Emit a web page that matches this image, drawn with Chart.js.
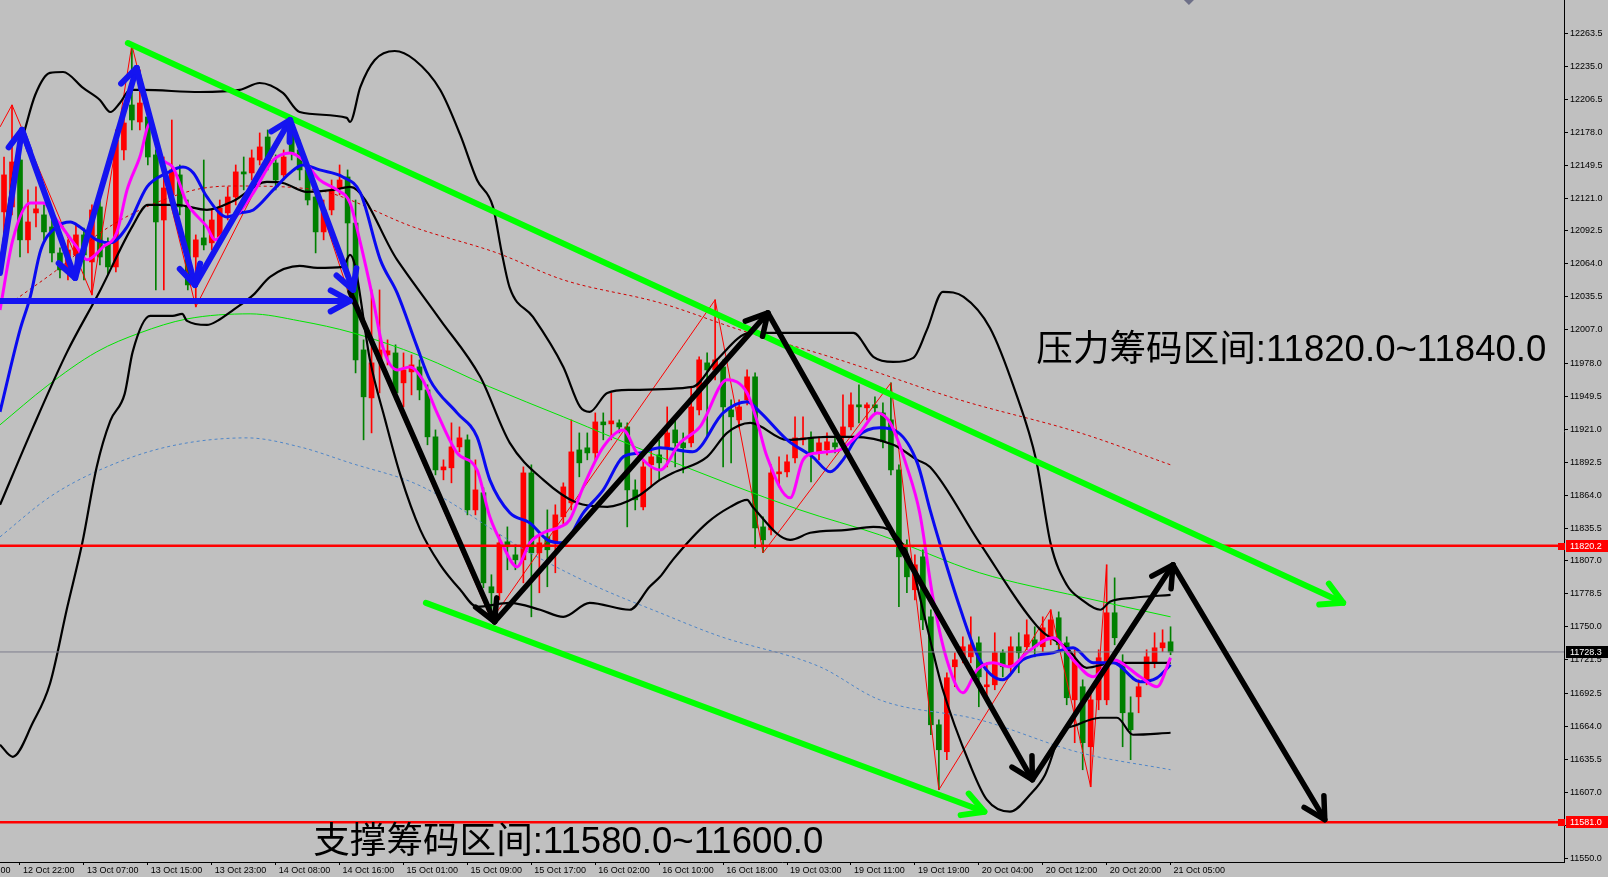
<!DOCTYPE html>
<html><head><meta charset="utf-8">
<script src="https://cdn.jsdelivr.net/npm/chart.js@4.4.1/dist/chart.umd.min.js"></script>
<style>html,body{margin:0;padding:0;background:#c0c0c0;overflow:hidden}canvas{display:block}</style>
</head><body><canvas id="c" width="1608" height="877"></canvas>
<script>
// ---------- DATA ----------
const firstBar = -2; // index of first hourly bar (0 = 12 Oct 22:00)
const open = [
12109.0,12113.3,12153.9,12084.8,12108.1,12106.4,12096.0,12073.5,12060.5,12071.8,
12089.1,12065.7,12113.3,12082.2,12061.4,12162.6,12201.5,12186.8,12191.1,12158.3,
12102.0,12123.7,12141.0,12113.3,12070.0,12086.5,12082.2,12087.3,12108.1,12121.9,
12143.6,12142.7,12153.9,12173.8,12151.3,12141.0,12177.3,12162.6,12145.3,12121.9,
12091.7,12110.7,12129.7,12139.2,12099.4,11989.6,11948.1,11981.0,11985.3,11987.0,
11961.1,11970.6,11974.9,11955.0,11914.4,11885.8,11887.6,11905.7,11911.8,11851.2,
11866.0,11784.7,11779.5,11823.6,11812.3,11808.0,11883.2,11814.1,11827.9,11822.7,
11845.2,11857.3,11903.1,11904.9,11900.5,11927.3,11925.6,11926.5,11923.0,11868.5,
11853.8,11890.2,11898.8,11905.7,11920.4,11909.2,11909.2,11937.7,11978.4,11972.3,
11974.9,11937.7,11929.1,11946.4,11966.3,11836.5,11833.9,11882.4,11884.1,11896.2,
11911.8,11913.5,11900.5,11903.1,11909.2,11914.4,11923.0,11942.1,11939.5,11942.1,
11935.1,11929.1,11885.8,11810.6,11782.1,11810.6,11758.7,11665.3,11642.0,11715.5,
11724.1,11724.1,11736.2,11698.2,11699.9,11727.6,11715.5,11732.8,11732.8,11738.8,
11732.8,11738.8,11757.9,11736.2,11686.9,11698.2,11646.3,11686.9,11686.9,11762.2,
11718.9,11675.7,11689.5,11704.2,11718.9,11731.9,11737.1];
const high = [
12156.5,12201.5,12179.9,12128.0,12130.6,12115.0,12102.0,12077.8,12084.8,12097.7,
12095.1,12115.0,12128.0,12086.5,12179.9,12197.2,12253.4,12231.8,12201.5,12162.6,
12156.5,12188.5,12149.6,12119.3,12089.1,12153.9,12110.7,12119.3,12130.6,12149.6,
12156.5,12162.6,12177.3,12179.9,12158.3,12162.6,12190.3,12171.2,12149.6,12128.0,
12119.3,12136.6,12149.6,12145.3,12119.3,11998.3,12041.5,12041.5,11998.3,11994.0,
11987.0,11985.3,11981.0,11959.4,11920.4,11894.5,11926.5,11923.0,11916.1,11894.5,
11870.3,11795.1,11829.6,11836.5,11821.0,11888.4,11890.2,11829.6,11851.2,11855.6,
11874.6,11929.1,11917.8,11917.8,11935.1,11935.1,11952.4,11929.1,11926.5,11877.2,
11894.5,11909.2,11911.8,11940.3,11929.1,11917.8,11957.6,11983.6,11987.0,12032.9,
11981.0,11946.4,11946.4,11972.3,11969.7,11845.2,11890.2,11897.1,11898.8,11931.7,
11931.7,11918.7,11914.4,11917.8,11914.4,11950.7,11952.4,11959.4,11943.8,11949.0,
11943.8,11961.1,11890.2,11825.3,11812.3,11816.7,11764.8,11669.6,11710.3,11727.6,
11741.4,11758.7,11741.4,11718.9,11744.9,11730.2,11741.4,11744.9,11756.1,11750.1,
11758.7,11764.8,11763.0,11741.4,11730.2,11704.2,11695.6,11730.2,11803.7,11792.4,
11725.9,11689.5,11704.2,11730.2,11744.9,11747.5,11750.1];
const low = [
12084.8,12106.4,12070.0,12073.5,12096.0,12084.8,12065.7,12051.9,12050.2,12065.7,
12050.2,12037.2,12063.1,12054.5,12057.1,12153.9,12179.9,12179.9,12149.6,12041.5,
12041.5,12119.3,12106.4,12041.5,12026.8,12076.1,12076.1,12080.4,12102.0,12115.0,
12128.0,12136.6,12149.6,12145.3,12128.0,12136.6,12153.9,12136.6,12115.0,12073.5,
12084.8,12106.4,12123.7,12041.5,11969.7,11911.8,11917.8,11952.4,11976.6,11946.4,
11940.3,11950.7,11946.4,11907.5,11881.5,11877.2,11874.6,11901.4,11846.9,11846.9,
11783.8,11756.1,11773.4,11799.4,11799.4,11788.1,11758.7,11779.5,11784.7,11796.8,
11838.3,11851.2,11879.8,11894.5,11894.5,11911.8,11911.8,11917.8,11836.5,11851.2,
11851.2,11871.1,11877.2,11888.4,11888.4,11883.2,11905.7,11933.4,11914.4,11963.7,
11888.4,11891.9,11922.2,11942.1,11818.4,11814.1,11829.6,11871.1,11879.8,11891.9,
11907.5,11875.5,11894.5,11898.8,11900.5,11909.2,11920.4,11926.5,11929.1,11935.1,
11904.9,11881.5,11767.4,11779.5,11773.4,11747.5,11656.7,11609.1,11635.1,11698.2,
11718.9,11718.9,11680.9,11689.5,11695.6,11706.8,11710.3,11710.3,11730.2,11724.1,
11728.5,11734.5,11728.5,11682.6,11649.8,11626.4,11611.7,11678.3,11682.6,11734.5,
11646.3,11635.1,11675.7,11699.9,11714.6,11728.5,11725.9];
const close = [
12141.0,12152.2,12084.8,12100.3,12111.6,12091.7,12073.5,12058.8,12076.1,12089.1,
12071.8,12110.7,12070.0,12061.4,12171.2,12185.9,12188.5,12203.2,12156.5,12100.3,
12129.7,12145.3,12113.3,12045.8,12084.8,12080.4,12102.0,12112.4,12121.9,12143.6,
12141.8,12155.7,12165.2,12149.6,12136.6,12156.5,12160.0,12145.3,12119.3,12091.7,
12110.7,12128.0,12136.6,12099.4,11981.0,11949.0,11978.4,11989.6,11988.8,11952.4,
11972.3,11976.6,11955.0,11914.4,11885.8,11888.4,11905.7,11913.5,11851.2,11868.5,
11788.1,11779.5,11822.7,11819.3,11808.0,11883.2,11814.1,11822.7,11816.7,11846.9,
11871.1,11901.4,11891.9,11900.5,11927.3,11924.8,11928.2,11923.0,11868.5,11859.9,
11888.4,11897.1,11891.9,11917.8,11909.2,11904.9,11940.3,11981.0,11972.3,11981.0,
11940.3,11931.7,11940.3,11966.3,11835.7,11825.3,11883.2,11884.1,11892.8,11913.5,
11913.5,11900.5,11909.2,11910.1,11905.7,11923.0,11942.1,11940.3,11942.1,11939.5,
11910.1,11885.8,11810.6,11793.3,11803.7,11756.1,11665.3,11643.7,11706.0,11721.5,
11732.8,11734.5,11706.8,11699.9,11727.6,11715.5,11732.8,11727.6,11743.2,11732.8,
11749.2,11756.1,11734.5,11688.7,11721.5,11649.8,11686.9,11723.3,11762.2,11740.6,
11675.7,11661.0,11698.2,11724.1,11731.9,11736.2,11728.3];

// time-axis labels (one every 8 bars)
const xTickBars = [-8,0,8,16,24,32,40,48,56,64,72,80,88,96,104,112,120,128,136,144];
const xTickLabels = ['12 Oct 14:00','12 Oct 22:00','13 Oct 07:00','13 Oct 15:00','13 Oct 23:00','14 Oct 08:00',
 '14 Oct 16:00','15 Oct 01:00','15 Oct 09:00','15 Oct 17:00','16 Oct 02:00','16 Oct 10:00','16 Oct 18:00',
 '19 Oct 03:00','19 Oct 11:00','19 Oct 19:00','20 Oct 04:00','20 Oct 12:00','20 Oct 20:00','21 Oct 05:00'];
const yTickValues = [12263.5,12235.0,12206.5,12178.0,12149.5,12121.0,12092.5,12064.0,12035.5,12007.0,
 11978.0,11949.5,11921.0,11892.5,11864.0,11835.5,11807.0,11778.5,11750.0,11721.5,11692.5,11664.0,
 11635.5,11607.0,11578.5,11550.0];

// indicator lines: [bar index, price]
const bbUpper = [[-2.5,12063.1],[-1.5,12110.7],[-0.6,12149.6],[0.6,12179.9],[1.9,12210.1],[3.75,12229.2],
 [5.4,12230.0],[7.9,12216.2],[10.0,12205.8],[11.3,12195.4],[12.5,12203.2],[13.8,12214.5],[15.4,12214.5],
 [22.5,12212.7],[27.5,12214.5],[30.0,12220.5],[32.9,12211.9],[35.0,12195.4],[40.9,12190.3],[41.3,12186.8],
 [42.6,12217.1],[44.4,12240.4],[46.9,12248.2],[49.4,12240.4],[52.6,12214.5],[55.1,12175.6],[57.2,12136.6],
 [59.2,12113.3],[60.3,12073.5],[61.3,12043.2],[64.2,12018.2],[68.0,11974.9],[70.1,11940.3],[71.3,11936.0],
 [73.5,11952.4],[76.3,11955.0],[84.2,11957.6],[87.2,11981.0],[91.4,12004.3],[104.3,12004.3],[106.8,11983.6],
 [109.3,11979.2],[111.8,11982.7],[113.5,12006.9],[115.5,12039.8],[118.1,12035.5],[121.4,12008.6],
 [124.5,11955.0],[127.2,11893.6],[129.0,11821.8],[131.0,11786.4],[132.9,11773.4],[135.2,11764.8],
 [136.4,11771.7],[139.3,11775.1],[144.0,11777.7]];
const bbMiddle = [[-2.5,11855.6],[1.6,11922.2],[5.9,11987.9],[10.0,12040.6],[14.1,12096.9],[16.0,12115.0],
 [19.6,12115.0],[23.4,12110.7],[26.7,12118.5],[30.9,12134.9],[32.9,12134.0],[35.9,12126.3],[39.2,12128.0],
 [41.3,12130.6],[47.2,12067.5],[52.6,12015.6],[57.6,11966.3],[61.3,11909.2],[65.5,11877.2],[69.7,11857.3],
 [73.5,11853.8],[77.2,11862.5],[80.1,11877.2],[81.7,11883.2],[86.0,11897.1],[88.5,11917.8],[91.4,11926.5],
 [96.0,11911.8],[101.0,11914.4],[104.3,11914.4],[109.3,11907.5],[112.3,11894.5],[113.9,11888.4],
 [120.1,11822.7],[127.7,11747.5],[131.0,11731.9],[133.5,11714.6],[136.8,11718.9],[144.0,11718.9]];
const bbLower = [[-2.5,11648.0],[-0.9,11637.6],[1.6,11667.0],[3.75,11700.8],[5.9,11766.5],[7.8,11822.7],
 [9.6,11888.4],[11.3,11928.2],[13.1,11951.6],[14.1,11987.9],[16.3,12019.0],[19.1,12019.0],[20.3,12020.8],
 [20.9,12014.7],[23.4,12011.2],[24.7,12014.7],[26.7,12024.2],[29.2,12037.2],[31.3,12052.8],[35.0,12062.3],
 [37.2,12060.5],[40.4,12061.4],[41.3,12071.8],[41.9,12063.1],[43.8,11981.0],[45.7,11929.1],[47.6,11881.5],
 [50.1,11833.9],[52.6,11803.7],[55.1,11782.1],[57.2,11767.4],[61.3,11770.8],[65.1,11764.8],[68.0,11758.7],
 [71.3,11770.8],[76.3,11764.8],[78.8,11784.7],[80.1,11793.3],[81.7,11808.0],[86.0,11840.0],[88.9,11853.8],
 [91.0,11859.9],[91.7,11853.8],[96.4,11825.3],[98.9,11831.4],[103.5,11833.9],[106.8,11836.5],[109.3,11831.4],
 [111.4,11808.0],[113.3,11756.1],[115.5,11695.6],[118.9,11630.7],[121.0,11600.5],[123.9,11590.1],
 [126.4,11604.8],[128.3,11622.1],[130.2,11656.7],[132.3,11665.3],[135.2,11671.4],[137.3,11671.4],
 [139.3,11656.7],[144.0,11658.4]];
const maBlue = [[-2.5,11936.0],[0.0,12006.9],[1.3,12036.0],[2.6,12076.1],[4.6,12096.0],[6.3,12100.3],[7.5,12096.0],
 [9.6,12084.8],[11.3,12082.2],[13.4,12096.0],[15.9,12130.6],[18.4,12142.7],[20.4,12147.9],[21.7,12142.7],
 [23.4,12121.9],[25.9,12104.6],[27.5,12108.1],[29.2,12110.7],[31.7,12128.0],[33.8,12142.7],[35.4,12149.6],
 [37.5,12145.3],[40.4,12139.2],[42.6,12125.4],[45.1,12067.5],[47.2,12038.9],[49.7,11992.2],[51.3,11963.7],
 [54.7,11935.1],[57.2,11914.4],[58.8,11877.2],[61.3,11848.7],[63.8,11840.0],[66.0,11825.3],[68.0,11822.7],
 [70.5,11848.7],[73.0,11868.5],[75.5,11897.1],[77.6,11900.5],[80.1,11904.9],[84.2,11901.4],[88.0,11935.1],
 [91.0,11944.7],[92.6,11936.0],[96.0,11911.8],[99.2,11897.1],[101.4,11884.1],[103.0,11894.5],[104.8,11914.4],
 [107.6,11922.2],[109.8,11918.7],[112.3,11891.9],[113.9,11851.2],[115.1,11822.7],[117.6,11767.4],
 [120.1,11721.5],[123.0,11704.2],[125.5,11721.5],[129.3,11727.6],[131.8,11731.9],[134.3,11718.9],
 [136.8,11718.9],[140.2,11702.5],[142.3,11705.9],[144.0,11717.2]];
const maMagenta = [[-2.5,12024.2],[-0.9,12084.8],[1.3,12116.7],[2.9,12116.7],[4.6,12102.0],[7.1,12078.7],
 [8.4,12067.5],[10.4,12078.7],[12.1,12090.8],[13.4,12128.0],[15.0,12156.5],[16.3,12185.9],[17.5,12156.5],
 [19.1,12147.9],[20.9,12116.7],[23.4,12096.0],[24.4,12084.8],[26.7,12102.0],[29.2,12125.4],[31.7,12153.9],
 [33.8,12160.0],[35.4,12153.9],[37.5,12136.6],[39.7,12128.0],[41.3,12116.7],[42.6,12082.2],[44.2,12032.9],
 [45.4,11992.2],[47.2,11972.3],[48.8,11974.9],[50.4,11963.7],[52.2,11935.1],[54.7,11900.5],[57.2,11885.8],
 [58.8,11845.2],[60.5,11819.3],[62.2,11801.9],[63.8,11822.7],[65.5,11831.4],[67.6,11836.5],[68.8,11842.6],
 [70.5,11871.1],[73.0,11905.7],[75.5,11920.4],[77.2,11900.5],[80.1,11885.8],[82.6,11909.2],[85.1,11923.0],
 [88.5,11963.7],[91.0,11952.4],[92.2,11929.1],[93.5,11897.1],[96.4,11861.6],[98.0,11894.5],[99.7,11900.5],
 [102.6,11903.1],[105.1,11917.8],[107.3,11935.1],[108.9,11926.5],[111.0,11888.4],[112.6,11848.7],
 [114.3,11773.4],[116.0,11721.5],[118.0,11693.0],[119.8,11712.9],[121.8,11718.9],[123.9,11715.5],
 [126.0,11727.6],[129.3,11740.6],[131.8,11721.5],[134.3,11706.8],[136.8,11721.5],[140.2,11706.8],
 [142.3,11698.2],[144.0,11723.3]];
const maGreen = [[-2.5,11924.8],[3.4,11958.5],[9.6,11987.9],[15.0,12004.3],[20.9,12016.4],[28.8,12020.8],
 [35.0,12014.7],[41.7,12004.3],[50.1,11984.4],[58.8,11957.6],[68.0,11931.7],[80.1,11897.1],[97.6,11851.2],
 [107.6,11829.6],[120.1,11796.8],[132.7,11776.0],[144.0,11758.7]];
const maRedDotted = [[-0.6,12032.9],[5.9,12065.7],[10.0,12090.8],[20.9,12126.3],[26.7,12131.4],[35.0,12129.7],
 [38.8,12125.4],[49.2,12096.0],[59.7,12073.5],[68.0,12050.2],[80.1,12030.3],[90.1,12006.9],[102.6,11981.0],
 [117.6,11946.4],[132.7,11917.8],[144.0,11890.2]];
const maBlueDotted = [[-2.5,11827.9],[3.75,11862.5],[10.0,11885.8],[18.4,11905.7],[28.4,11913.5],[35.0,11905.7],
 [41.3,11891.9],[50.1,11872.0],[63.8,11814.1],[72.2,11784.7],[80.1,11762.2],[87.4,11742.3],[100.1,11715.5],
 [107.6,11686.9],[120.1,11669.6],[132.7,11641.1],[144.0,11626.4]];
const zigzag = [[-2.5,12182.5],[-1,12201.5],[9,12037.2],[14,12253.4],[22,12026.8],[34,12190.3],[41,12041.5],[59,11756.1],
 [87,12032.9],[93,11814.1],[109,11961.1],[115,11609.1],[129,11764.8],[134,11611.7],[136,11803.7]];

// hand-drawn arrows: [[from bar, from price],[to bar, to price]]
const blueArrows = [
 [[-2.5,12056.2],[0.25,12179.9]], [[0.25,12179.9],[6.9,12051.9]], [[6.9,12051.9],[14.6,12233.5]],
 [[14.6,12233.5],[21.9,12045.8]], [[21.9,12045.8],[33.8,12188.5]], [[33.8,12188.5],[41.7,12041.5]],
 [[-2.5,12032.0],[41.3,12032.0]]];
const blackArrows = [
 [[41.3,12039.8],[59.4,11754.4]], [[59.4,11754.4],[93.6,12021.6]], [[93.6,12021.6],[126.7,11617.8]],
 [[126.7,11617.8],[144.3,11803.7]], [[144.3,11803.7],[163.3,11583.2]]];
const greenArrows = [
 [[13.5,12255.1],[165.6,11770.8]], [[50.8,11770.8],[120.7,11590.1]]];

const levelPrices = [11820.2, 11581.0];
const lastPrice = 11728.3;
const shiftMarkBar = 146.3;
const noteTexts = ['压力筹码区间:11820.0~11840.0', '支撑筹码区间:11580.0~11600.0'];
const noteAnchors = [[127.2, 11988.8], [36.7, 11563.3]];

// ---------- CHART ----------
const X_MIN = -2.503, X_MAX = 193.24, Y_MIN = 11546.6, Y_MAX = 12292.3;
const AX_FONT = {family: '"Liberation Sans", Arial, sans-serif', size: 9};
const xy = arr => arr.map(([x, y]) => ({x, y}));
const bars = open.map((_, k) => firstBar + k);
const candleColors = open.map((o, k) => close[k] >= o ? '#ff0000' : '#008000');

const lineDs = (data, color, width, order, extra) => Object.assign({
  type: 'line', data: xy(data), borderColor: color, borderWidth: width, pointRadius: 0,
  fill: false, order, cubicInterpolationMode: 'monotone', tension: 0.3
}, extra || {});

const datasets = [
  {type: 'bar', data: bars.map((x, k) => ({x, y: [low[k], high[k]]})), backgroundColor: candleColors,
   barThickness: 1, grouped: false, order: 20},
  {type: 'bar', data: bars.map((x, k) => ({x, y: [open[k], close[k]]})), backgroundColor: candleColors,
   barThickness: 5, grouped: false, minBarLength: 1, order: 19},
  lineDs(zigzag, '#ff0000', 1, 18, {tension: 0, cubicInterpolationMode: 'default'}),
  lineDs(maGreen, '#00e600', 1, 17),
  lineDs(maRedDotted, '#d00000', 1, 16, {borderDash: [3, 3]}),
  lineDs(maBlueDotted, '#4f86c8', 1, 16, {borderDash: [3, 3]}),
  lineDs(bbUpper, '#000000', 2.2, 15, {tension: 0.2}),
  lineDs(bbMiddle, '#000000', 2.2, 15, {tension: 0.2}),
  lineDs(bbLower, '#000000', 2.2, 15, {tension: 0.2}),
  lineDs(maBlue, '#0a0af0', 3, 14),
  lineDs(maMagenta, '#ff00ff', 3, 13),
  {type: 'line', data: [{x: X_MIN, y: lastPrice}, {x: X_MAX, y: lastPrice}], borderColor: '#7c7c8c',
   borderWidth: 1, pointRadius: 0, order: 12},
];
levelPrices.forEach(p => datasets.push({type: 'line', data: [{x: X_MIN, y: p}, {x: X_MAX, y: p}],
  borderColor: '#ff0000', borderWidth: 2.4, pointRadius: 0, order: 11}));
const arrowDs = (seg, color, width, head) => ({type: 'line', data: xy(seg), borderColor: color,
  borderWidth: width, pointRadius: 0, order: 2, arrowHead: head, borderCapStyle: 'round', tension: 0});
blackArrows.forEach(s => datasets.push(arrowDs(s, '#000000', 5.5, 24)));
blueArrows.forEach(s => datasets.push(arrowDs(s, '#1414f0', 6, 22)));
greenArrows.forEach(s => datasets.push(arrowDs(s, '#00ff00', 6, 24)));

const bgPlugin = {id: 'bg', beforeDraw(c) {
  const ctx = c.ctx; ctx.save(); ctx.fillStyle = '#c0c0c0'; ctx.fillRect(0, 0, c.width, c.height); ctx.restore(); }};

const arrowPlugin = {id: 'arrowHeads', afterDatasetsDraw(chart) {
  const ctx = chart.ctx;
  chart.data.datasets.forEach((ds, di) => {
    if (!ds.arrowHead) return;
    const pts = chart.getDatasetMeta(di).data;
    const a = pts[pts.length - 2], b = pts[pts.length - 1];
    const ang = Math.atan2(b.y - a.y, b.x - a.x), L = ds.arrowHead, w = 0.5;
    ctx.save();
    ctx.strokeStyle = ds.borderColor; ctx.lineWidth = ds.borderWidth;
    ctx.lineCap = 'round'; ctx.lineJoin = 'round';
    ctx.beginPath();
    ctx.moveTo(b.x - L * Math.cos(ang - w), b.y - L * Math.sin(ang - w));
    ctx.lineTo(b.x, b.y);
    ctx.lineTo(b.x - L * Math.cos(ang + w), b.y - L * Math.sin(ang + w));
    ctx.stroke();
    ctx.restore();
  });
}};

const notePlugin = {id: 'notes', afterDatasetsDraw(chart) {
  const ctx = chart.ctx, xs = chart.scales.x, ys = chart.scales.y;
  ctx.save();
  ctx.fillStyle = '#000';
  ctx.font = '36.6px "Liberation Sans", "Noto Sans CJK SC", sans-serif';
  ctx.textAlign = 'left'; ctx.textBaseline = 'middle';
  noteTexts.forEach((t, k) => ctx.fillText(t, xs.getPixelForValue(noteAnchors[k][0]), ys.getPixelForValue(noteAnchors[k][1])));
  // chart-shift marker at the top edge
  const mx = xs.getPixelForValue(shiftMarkBar);
  ctx.fillStyle = '#6e7088';
  ctx.beginPath(); ctx.moveTo(mx - 5, 0); ctx.lineTo(mx + 5, 0); ctx.lineTo(mx, 5); ctx.closePath(); ctx.fill();
  ctx.restore();
}};

const tagPlugin = {id: 'priceTags', afterDraw(chart) {
  const ctx = chart.ctx, ys = chart.scales.y, r = chart.chartArea.right;
  const tag = (v, bg, marker) => {
    const y = Math.round(ys.getPixelForValue(v));
    ctx.fillStyle = bg;
    ctx.fillRect(r + 2, y - 6, chart.width - r - 2, 12);
    if (marker) { ctx.fillRect(r - 6, y - 3, 7, 7); }
    ctx.fillStyle = '#fff';
    ctx.font = '9px "Liberation Sans", Arial, sans-serif';
    ctx.textAlign = 'left'; ctx.textBaseline = 'middle';
    ctx.fillText(v.toFixed(1), r + 6, y + 0.5);
  };
  ctx.save();
  levelPrices.forEach(v => tag(v, '#ff0000', true));
  tag(lastPrice, '#000000', false);
  ctx.restore();
}};

const xLabelOf = {};
xTickBars.forEach((b, k) => { xLabelOf[b] = xTickLabels[k]; });
const noPad = s => { s.paddingLeft = 0; s.paddingRight = 0; s.paddingTop = 0; s.paddingBottom = 0; };

new Chart(document.getElementById('c'), {
  type: 'bar',
  data: {datasets},
  plugins: [bgPlugin, arrowPlugin, notePlugin, tagPlugin],
  options: {
    responsive: false, animation: false, devicePixelRatio: 1,
    layout: {padding: 0},
    plugins: {legend: {display: false}, tooltip: {enabled: false}, title: {display: false}},
    events: [],
    scales: {
      x: {
        type: 'linear', min: X_MIN, max: X_MAX, offset: false, position: 'bottom',
        grid: {drawOnChartArea: false, drawTicks: true, tickLength: 3, color: '#000', offset: false},
        border: {display: true, color: '#000', width: 1},
        ticks: {autoSkip: false, maxRotation: 0, minRotation: 0, align: 'start', labelOffset: 3, padding: 0,
          color: '#000', font: AX_FONT, callback: v => xLabelOf[v] !== undefined ? xLabelOf[v] : ''},
        afterBuildTicks: s => { s.ticks = xTickBars.map(v => ({value: v})); },
        afterFit: s => { s.height = 15; noPad(s); }
      },
      y: {
        type: 'linear', position: 'right', min: Y_MIN, max: Y_MAX,
        grid: {drawOnChartArea: false, drawTicks: true, tickLength: 4, color: '#000'},
        border: {display: true, color: '#000', width: 1},
        ticks: {autoSkip: false, padding: 2, crossAlign: 'near', color: '#000', font: AX_FONT,
          callback: v => Number(v).toFixed(1)},
        afterBuildTicks: s => { s.ticks = yTickValues.map(v => ({value: v})); },
        afterFit: s => { s.width = 44; noPad(s); }
      }
    }
  }
});
</script>
</body></html>
